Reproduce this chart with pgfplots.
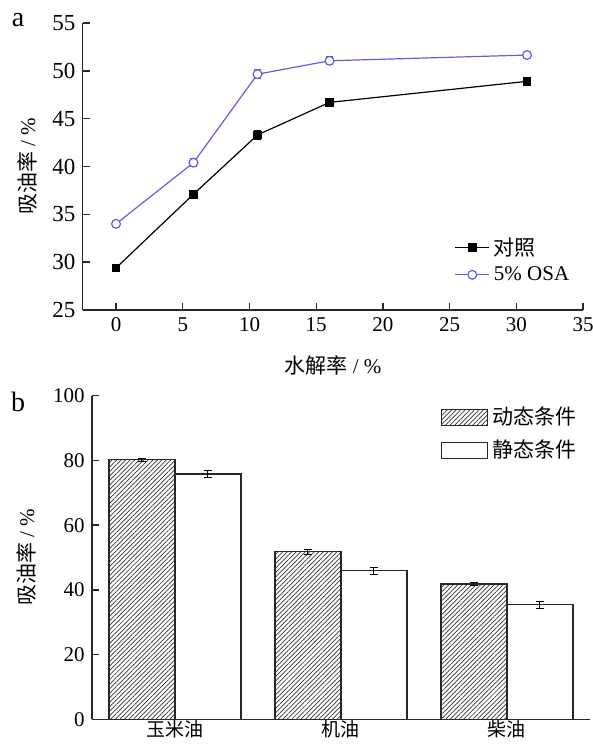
\documentclass[border=0pt]{standalone}
\usepackage{fontspec}
\setmainfont{Liberation Serif}
\newfontfamily\cjk{Noto Sans CJK SC}
\usepackage{pgfplots}
\pgfplotsset{compat=1.18}
\usetikzlibrary{patterns.meta}
\definecolor{osa}{RGB}{95,95,225}
\definecolor{axgray}{RGB}{40,40,40}
\begin{document}
\fontsize{10.5}{12}\selectfont
\begin{tikzpicture}[x=0.5pt,y=0.5pt]
\useasboundingbox (0,0) rectangle (593,744);
\pgfplotsset{
  every axis/.append style={
    scale only axis,
    axis x line*=bottom, axis y line*=left,
    axis line style={axgray, line width=0.7pt},
    tick align=inside,
    tick style={axgray, line width=0.7pt},
    major tick length=3.5pt,
    /pgf/number format/assume math mode=true,
    tick label style={font=\fontsize{10.5}{12}\selectfont},
    clip=false,
  }
}
% ---------------- panel a ----------------
\begin{axis}[
  at={(41.35pt,217pt)}, anchor=south west,
  width=250.2pt, height=143.5pt,
  xmin=-2.5, xmax=35, ymin=25, ymax=55,
  xtick={0,5,...,35}, ytick={25,30,...,55},
  yticklabel style={font=\fontsize{11.5}{13}\selectfont},
  legend style={draw=none, fill=none, at={(0.985,0.275)}, anchor=north east,
    font=\fontsize{10.5}{12}\selectfont, row sep=0pt, inner sep=1pt},
  legend cell align=left,
]
\addplot[black, line width=0.6pt, mark=square*, mark size=1.9pt,
  mark options={fill=black},
  error bars/.cd, y dir=both, y explicit,
  error bar style={line width=0.5pt},
  error mark options={rotate=90, mark size=1.8pt, line width=0.5pt}]
  coordinates {
  (0,29.4) +- (0,0.2)
  (5.8,37.1) +- (0,0.4)
  (10.6,43.3) +- (0,0.5)
  (16.0,46.7) +- (0,0.4)
  (30.8,48.9) +- (0,0.3)
  };
\addlegendentry{{\cjk 对照}}
\addplot[osa, line width=0.6pt, mark=*, mark size=2.2pt,
  mark options={fill=white, draw=osa},
  error bars/.cd, y dir=both, y explicit,
  error bar style={line width=0.5pt, osa},
  error mark options={rotate=90, mark size=1.8pt, line width=0.5pt, osa}]
  coordinates {
  (0,34.0) +- (0,0.2)
  (5.8,40.4) +- (0,0.4)
  (10.6,49.65) +- (0,0.5)
  (16.0,51.05) +- (0,0.4)
  (30.8,51.65) +- (0,0.3)
  };
\addlegendentry{5\% OSA}
\end{axis}
% ---------------- panel b ----------------
\begin{axis}[
  at={(46pt,12.35pt)}, anchor=south west,
  width=249pt, height=161.8pt,
  xmin=-0.5, xmax=2.5, ymin=0, ymax=100,
  ybar=0pt, bar width=33pt,
  xtick={0,1,2}, xticklabels={{\cjk 玉米油},{\cjk 机油},{\cjk 柴油}},
  xticklabel style={anchor=base, inner sep=0pt, yshift=-5pt, font=\fontsize{9.5}{10}\selectfont},
  x tick style={draw=none},
  ytick={0,20,...,100},
  legend style={draw=none, fill=none, at={(0.985,0.985)}, anchor=north east,
    font=\cjk\fontsize{10.5}{12}\selectfont, row sep=2pt, inner sep=1pt},
  legend cell align=left,
  legend image code/.code={\draw[#1] (0pt,-4pt) rectangle (23pt,4pt);},
]
\addplot[draw=axgray, line width=0.6pt,
  pattern={Lines[angle=45,distance=1.6pt,line width=0.35pt]}, pattern color=black!80,
  error bars/.cd, y dir=both, y explicit,
  error bar style={line width=0.5pt, black},
  error mark options={rotate=90, mark size=1.8pt, line width=0.5pt, black}]
  coordinates {(0,80.2) +- (0,0.5) (1,51.8) +- (0,0.8) (2,41.8) +- (0,0.4)};
\addlegendentry{动态条件}
\addplot[draw=axgray, fill=white, line width=0.6pt,
  error bars/.cd, y dir=both, y explicit,
  error bar style={line width=0.5pt, black},
  error mark options={rotate=90, mark size=1.8pt, line width=0.5pt, black}]
  coordinates {(0,75.8) +- (0,1.0) (1,45.9) +- (0,1.1) (2,35.4) +- (0,1.1)};
\addlegendentry{静态条件}
\end{axis}
% ---------------- labels ----------------
\node[font=\fontsize{14}{16}\selectfont] at (18,744-20) {a};
\node[font=\fontsize{14}{16}\selectfont] at (18,744-402) {b};
\node[rotate=90] at (27,744-166) {{\cjk 吸油率} / \%};
\node at (333,744-365) {{\cjk 水解率} / \%};
\node[rotate=90] at (26,744-557) {{\cjk 吸油率} / \%};
\end{tikzpicture}
\end{document}
